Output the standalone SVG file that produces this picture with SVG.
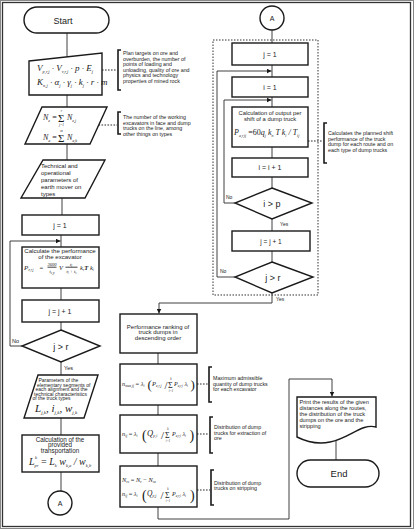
<svg xmlns="http://www.w3.org/2000/svg" width="414" height="529" viewBox="0 0 414 529">
<defs>
<style>
.bx{fill:#fff;stroke:#1a1a1a;stroke-width:1.4}
.ln{fill:none;stroke:#2a2a2a;stroke-width:0.9}
.dt{fill:none;stroke:#2a2a2a;stroke-width:1;stroke-dasharray:1.6 1.4}
.rg{fill:none;stroke:#333;stroke-width:1;stroke-dasharray:1.5 1.5}
.br{fill:none;stroke:#1a1a1a;stroke-width:1.6}
.t{font-family:"Liberation Sans",Arial,sans-serif;fill:#1a1a1a}
.c{text-anchor:middle}
.a{font-size:5.3px}
.f{font-family:"Liberation Serif","Times New Roman",serif;font-style:italic;fill:#1a1a1a}
.n{font-style:normal}
</style>
<marker id="ah" viewBox="0 0 6 6" refX="6" refY="3" markerWidth="5" markerHeight="5" orient="auto" markerUnits="userSpaceOnUse"><path d="M0,0L6,3L0,6z" fill="#1a1a1a"/></marker>
</defs>
<rect x="0" y="0" width="414" height="529" fill="#fff"/>
<rect x="0.5" y="0.5" width="413" height="528" fill="none" stroke="#888" stroke-width="1"/>
<rect x="2.5" y="2.5" width="408" height="524" fill="none" stroke="#333" stroke-width="1.3"/>

<g id="connectors">
<path class="ln" d="M67,33V57"/>
<path class="ln" d="M67,95V107"/>
<path class="ln" d="M67,144V160"/>
<path class="ln" d="M62,198V215"/>
<path class="ln" d="M61,235V247"/>
<path class="ln" d="M22,346H10V241H60.5" marker-end="url(#ah)"/>
<path class="ln" d="M61,288V300"/>
<path class="ln" d="M61,322V330"/>
<path class="ln" d="M61,362V375"/>
<path class="ln" d="M61,418V435"/>
<path class="ln" d="M61,472V491"/>
<path class="ln" d="M272,30V43"/>
<path class="ln" d="M272,65V77"/>
<path class="ln" d="M235,277H217V71H271.5" marker-end="url(#ah)"/>
<path class="ln" d="M272,97V107"/>
<path class="ln" d="M235,203H224V100H271.5" marker-end="url(#ah)"/>
<path class="ln" d="M272,147V158"/>
<path class="ln" d="M272,177V188"/>
<path class="ln" d="M272,219V231"/>
<path class="ln" d="M272,251V262"/>
<path class="ln" d="M272,293V303H159V313.5" marker-end="url(#ah)"/>
<path class="ln" d="M158,353V364"/>
<path class="ln" d="M158,405V415"/>
<path class="ln" d="M158,453V466"/>
<path class="ln" d="M158,507V519H289V379H332V396.5" marker-end="url(#ah)"/>
<path class="ln" d="M336,440V460"/>
<path class="dt" d="M102,70H117"/>
<path class="dt" d="M98.5,125H117"/>
<path class="dt" d="M308,141H323"/>
<path class="dt" d="M197,384H208"/>
<path class="dt" d="M197,434H209"/>
<path class="dt" d="M197,490H210"/>
<text class="t" x="12" y="343" font-size="5.5">No</text>
<text class="t" x="64" y="370" font-size="5.5">Yes</text>
<text class="t" x="226" y="199" font-size="5">No</text>
<text class="t" x="280" y="226" font-size="5">Yes</text>
<text class="t" x="220" y="273" font-size="5">No</text>
<text class="t" x="276" y="301" font-size="5">Yes</text>
</g>

<g id="start">
<rect class="bx" x="24" y="7" width="85" height="26" rx="13"/>
<text class="t c" x="63" y="23.5" font-size="9">Start</text>
</g>

<g id="input-data">
<polygon class="bx" points="29,61 102,53 102,95 29,95"/>
<text class="f" x="37" y="71" font-size="9">V<tspan font-size="4.5" dy="1.5">p,r,j</tspan><tspan dy="-1.5"> · V</tspan><tspan font-size="4.5" dy="1.5">v,r,j</tspan><tspan dy="-1.5"> · p · E</tspan><tspan font-size="4.5" dy="1.5">j</tspan></text>
<text class="f" x="37" y="85" font-size="9">K<tspan font-size="4.5" dy="1.5">n,j</tspan><tspan dy="-1.5"> · α</tspan><tspan font-size="4.5" dy="1.5">j</tspan><tspan dy="-1.5"> · γ</tspan><tspan font-size="4.5" dy="1.5">j</tspan><tspan dy="-1.5"> · k</tspan><tspan font-size="4.5" dy="1.5">j</tspan><tspan dy="-1.5"> · r · m</tspan></text>
</g>
<g id="note-plan">
<path class="br" d="M121,50H118V90H121"/>
<text class="t a" x="123" y="55">Plan targets on ore and</text>
<text class="t a" x="123" y="60.6">overburden, the number of</text>
<text class="t a" x="123" y="66.2">points of loading and</text>
<text class="t a" x="123" y="71.8">unloading, quality of ore and</text>
<text class="t a" x="123" y="77.4">physics and technology</text>
<text class="t a" x="123" y="83">properties of mined rock</text>
</g>

<g id="counts">
<polygon class="bx" points="42,107 107,107 90,144 25,144"/>
<text class="f" x="43" y="120" font-size="8">N<tspan font-size="4" dy="1.5">e</tspan><tspan dy="-1.5" class="n"> = </tspan></text>
<text class="f n" x="58" y="121.5" font-size="11">Σ</text>
<text class="f" x="61.5" y="111.5" font-size="3.5" text-anchor="middle">r</text>
<text class="f" x="61.5" y="125.5" font-size="3.5" text-anchor="middle">j=1</text>
<text class="f" x="67" y="120" font-size="8">N<tspan font-size="4" dy="1.5">e,j</tspan></text>
<text class="f" x="43" y="140" font-size="8">N<tspan font-size="4" dy="1.5">a</tspan><tspan dy="-1.5" class="n"> = </tspan></text>
<text class="f n" x="58" y="141.5" font-size="11">Σ</text>
<text class="f" x="61.5" y="131.5" font-size="3.5" text-anchor="middle">m</text>
<text class="f" x="67" y="140" font-size="8">N<tspan font-size="4" dy="1.5">a,k</tspan></text>
</g>
<g id="note-counts">
<path class="br" d="M121,112H118V134H121"/>
<text class="t a" x="123" y="119">The number of the working</text>
<text class="t a" x="123" y="124.5">excavators in face and dump</text>
<text class="t a" x="123" y="130">trucks on the line, among</text>
<text class="t a" x="123" y="135.5">other things on types</text>
</g>

<g id="tech-params">
<polygon class="bx" points="43,160 105,160 85,198 21,198"/>
<text class="t" x="41" y="167.5" font-size="6">Technical and</text>
<text class="t" x="41" y="174.5" font-size="6">operational</text>
<text class="t" x="41" y="181.5" font-size="6">parameters of</text>
<text class="t" x="41" y="188.5" font-size="6">earth mover on</text>
<text class="t" x="41" y="195.5" font-size="6">types</text>
</g>

<g id="left-j1">
<rect class="bx" x="22" y="215" width="77" height="20"/>
<text class="t c" x="60" y="227.5" font-size="7">j = 1</text>
</g>

<g id="excavator-perf">
<rect class="bx" x="22" y="247" width="77" height="41"/>
<text class="t c" x="60" y="253" font-size="6.1">Calculate the performance</text>
<text class="t c" x="60" y="258.5" font-size="6.1">of the excavator</text>
<text class="f" x="24" y="270" font-size="7">P<tspan font-size="3.5" dy="1.3">e,r,j</tspan></text>
<text class="f n" x="39.5" y="270" font-size="6.5">=</text>
<text class="f" x="52" y="266" font-size="4.5" text-anchor="middle">3600</text>
<path class="ln" d="M47.5,267.2H56.5" stroke-width="0.5"/>
<text class="f" x="52" y="273" font-size="4.5" text-anchor="middle">t<tspan font-size="3" dy="0.8">c,p</tspan></text>
<text class="f" x="59" y="270" font-size="6.5">V</text>
<text class="f" x="71" y="266" font-size="4.5" text-anchor="middle">t<tspan font-size="3" dy="0.8">l</tspan></text>
<path class="ln" d="M65.5,267.2H77.5" stroke-width="0.5"/>
<text class="f" x="71.5" y="273" font-size="4.5" text-anchor="middle">t<tspan font-size="3" dy="0.8">l</tspan><tspan dy="-0.8"> + t</tspan><tspan font-size="3" dy="0.8">s</tspan></text>
<text class="f" x="80" y="270" font-size="6.5">k<tspan font-size="3.5" dy="1.2">r</tspan><tspan dy="-1.2" font-weight="bold">T</tspan><tspan dy="0"> k</tspan><tspan font-size="3.5" dy="1.2">i</tspan></text>
</g>

<g id="left-jinc">
<rect class="bx" x="22" y="300" width="77" height="22"/>
<text class="t c" x="60" y="313.5" font-size="7">j = j + 1</text>
</g>

<g id="left-jgtr">
<polygon class="bx" points="61,330 100,346 61,362 22,346"/>
<text class="t c" x="61" y="349.5" font-size="9">j &gt; r</text>
</g>

<g id="segment-params">
<polygon class="bx" points="38,375 98,375 84,418 24,418"/>
<text class="t" x="38.5" y="382" font-size="5">Parameters of the</text>
<text class="t" x="37" y="386.5" font-size="5">elementary segments of</text>
<text class="t" x="35.5" y="391" font-size="5">each alignment and the</text>
<text class="t" x="34" y="395.5" font-size="5">technical characteristics</text>
<text class="t" x="32.5" y="400" font-size="5">of the truck types</text>
<text class="f" x="35" y="412" font-size="11">L<tspan font-size="5" dy="1.8">j,k</tspan><tspan dy="-1.8">, i</tspan><tspan font-size="5" dy="1.8">j,k</tspan><tspan dy="-1.8">, w</tspan><tspan font-size="5" dy="1.8">j,k</tspan></text>
</g>

<g id="provided-transport">
<rect class="bx" x="22" y="435" width="77" height="37"/>
<text class="t c" x="60" y="441.5" font-size="6.3">Calculation of the</text>
<text class="t c" x="60" y="447" font-size="6.3">provided</text>
<text class="t c" x="60" y="452.5" font-size="6.3">transportation</text>
<text class="f" x="29" y="465" font-size="10">L<tspan font-size="4.5" dy="2">pr</tspan><tspan dy="-2" class="n"> = </tspan>L<tspan font-size="4.5" dy="2">k</tspan><tspan dy="-2"> w</tspan><tspan font-size="4.5" dy="2">k,a</tspan><tspan dy="-2"> / w</tspan><tspan font-size="4.5" dy="2">k,b</tspan></text>
<text class="f" x="35" y="459" font-size="4.5">k</text>
</g>

<g id="connector-a-out">
<circle class="bx" cx="60" cy="503" r="12"/>
<text class="t c" x="60" y="505.5" font-size="7">A</text>
</g>

<g id="connector-a-in">
<circle class="bx" cx="272" cy="18" r="12"/>
<text class="t c" x="272" y="20.5" font-size="7">A</text>
</g>

<g id="truck-loop-region">
<rect class="rg" x="213" y="40" width="105" height="255"/>
</g>

<g id="right-j1">
<rect class="bx" x="232" y="43" width="76" height="22"/>
<text class="t c" x="270" y="56.5" font-size="7">j = 1</text>
</g>

<g id="right-i1">
<rect class="bx" x="232" y="77" width="76" height="20"/>
<text class="t c" x="270" y="89.5" font-size="7">i = 1</text>
</g>

<g id="truck-output">
<rect class="bx" x="232" y="107" width="76" height="40"/>
<text class="t c" x="270" y="114.5" font-size="5.8">Calculation of output per</text>
<text class="t c" x="270" y="120.5" font-size="5.8">shift of a dump truck</text>
<text class="f" x="234" y="135" font-size="8">P<tspan font-size="4" dy="1.5">a,r,ij</tspan><tspan dy="-1.5" class="n"> =60</tspan>q<tspan font-size="4" dy="1.5">j</tspan><tspan dy="-1.5"> k</tspan><tspan font-size="4" dy="1.5">n</tspan><tspan dy="-1.5"> T k</tspan><tspan font-size="4" dy="1.5">i</tspan><tspan dy="-1.5"> / T</tspan><tspan font-size="4" dy="1.5">ij</tspan></text>
</g>
<g id="note-truck">
<path class="br" d="M327,123H324V163H327"/>
<text class="t a" x="328" y="135">Calculates the planned shift</text>
<text class="t a" x="328" y="140.5">performance of the truck</text>
<text class="t a" x="328" y="146">dump for each route and on</text>
<text class="t a" x="328" y="151.5">each type of dump trucks</text>
</g>

<g id="right-iinc">
<rect class="bx" x="232" y="158" width="76" height="19"/>
<text class="t c" x="270" y="170" font-size="7">i = i + 1</text>
</g>

<g id="right-igtp">
<polygon class="bx" points="272,188 312,203 272,219 235,203"/>
<text class="t c" x="272" y="206.5" font-size="9">i &gt; p</text>
</g>

<g id="right-jinc">
<rect class="bx" x="232" y="231" width="78" height="20"/>
<text class="t c" x="271" y="243.5" font-size="6.5">j = j + 1</text>
</g>

<g id="right-jgtr">
<polygon class="bx" points="272,262 313,277 272,293 235,277"/>
<text class="t c" x="273" y="280.5" font-size="9">j &gt; r</text>
</g>

<g id="ranking">
<rect class="bx" x="120" y="314" width="77" height="39"/>
<text class="t c" x="158" y="328.5" font-size="6">Performance ranking of</text>
<text class="t c" x="158" y="334" font-size="6">truck dumps in</text>
<text class="t c" x="158" y="339.5" font-size="6">descending order</text>
</g>

<g id="max-trucks">
<rect class="bx" x="120" y="364" width="77" height="41"/>
<text class="f" x="122" y="386" font-size="6.3">n<tspan font-size="3.6" dy="1.2">max,ij</tspan><tspan dy="-1.2" class="n"> = </tspan>λ<tspan font-size="3.6" dy="1.2">i</tspan></text>
<text class="f n" x="147.5" y="389" font-size="13">(</text>
<text class="f" x="152" y="386" font-size="6.5">P<tspan font-size="3.6" dy="1.2">e,r,j</tspan></text>
<text class="f n" x="164.5" y="388.5" font-size="11">/</text>
<text class="f n" x="168" y="388" font-size="8">Σ</text>
<text class="f" x="171" y="380" font-size="3" text-anchor="middle">k</text>
<text class="f" x="171" y="392" font-size="3" text-anchor="middle">i=1</text>
<text class="f" x="174" y="386" font-size="6">P<tspan font-size="3.4" dy="1.2">a,r,i</tspan><tspan dy="-1.2"> λ</tspan><tspan font-size="3.4" dy="1.2">i</tspan></text>
<text class="f n" x="190.5" y="389" font-size="13">)</text>
</g>
<g id="note-max">
<path class="br" d="M212,367H209V402H212"/>
<text class="t a" x="213" y="380">Maximum admissible</text>
<text class="t a" x="213" y="385.5">quantity of dump trucks</text>
<text class="t a" x="213" y="391">for each excavator</text>
</g>

<g id="ore-distribution">
<rect class="bx" x="120" y="415" width="77" height="38"/>
<text class="f" x="122" y="436" font-size="6.3">n<tspan font-size="3.6" dy="1.2">ij</tspan><tspan dy="-1.2" class="n"> = </tspan>λ<tspan font-size="3.6" dy="1.2">i</tspan></text>
<text class="f n" x="142" y="439.5" font-size="14">(</text>
<text class="f" x="147" y="436" font-size="8.5">Q<tspan font-size="4" dy="1.3">p,i</tspan></text>
<text class="f n" x="161" y="438.5" font-size="11">/</text>
<text class="f n" x="165" y="438" font-size="8">Σ</text>
<text class="f" x="168" y="430" font-size="3" text-anchor="middle">k</text>
<text class="f" x="168" y="442" font-size="3" text-anchor="middle">i=1</text>
<text class="f" x="172" y="436" font-size="6">P<tspan font-size="3.4" dy="1.2">a,r,i</tspan><tspan dy="-1.2"> λ</tspan><tspan font-size="3.4" dy="1.2">i</tspan></text>
<text class="f n" x="189.5" y="439.5" font-size="14">)</text>
</g>
<g id="note-ore">
<path class="br" d="M213,417H210V453H213"/>
<text class="t a" x="214" y="429">Distribution of dump</text>
<text class="t a" x="214" y="434.5">trucks for extraction of</text>
<text class="t a" x="214" y="440">ore</text>
</g>

<g id="stripping-distribution">
<rect class="bx" x="120" y="466" width="77" height="41"/>
<text class="f" x="122" y="482" font-size="6.3">N<tspan font-size="3.6" dy="1.2">vs</tspan><tspan dy="-1.2" class="n"> = </tspan>N<tspan font-size="3.6" dy="1.2">v</tspan><tspan dy="-1.2" class="n"> − </tspan>N<tspan font-size="3.6" dy="1.2">ve</tspan></text>
<text class="f" x="122" y="496" font-size="6.3">n<tspan font-size="3.6" dy="1.2">ij</tspan><tspan dy="-1.2" class="n"> = </tspan>λ<tspan font-size="3.6" dy="1.2">i</tspan></text>
<text class="f n" x="142" y="499.5" font-size="14">(</text>
<text class="f" x="147" y="496" font-size="7.5">Q<tspan font-size="3.8" dy="1.3">p,j</tspan></text>
<text class="f n" x="160.5" y="498.5" font-size="11">/</text>
<text class="f n" x="165" y="498" font-size="8">Σ</text>
<text class="f" x="168" y="490" font-size="3" text-anchor="middle">k</text>
<text class="f" x="168" y="502" font-size="3" text-anchor="middle">i=1</text>
<text class="f" x="172" y="496" font-size="6">P<tspan font-size="3.4" dy="1.2">a,r,i</tspan><tspan dy="-1.2"> λ</tspan><tspan font-size="3.4" dy="1.2">i</tspan></text>
<text class="f n" x="190" y="499.5" font-size="14">)</text>
</g>
<g id="note-stripping">
<path class="br" d="M214,470H211V505H214"/>
<text class="t a" x="214" y="484.5">Distribution of dump</text>
<text class="t a" x="214" y="490">trucks on stripping</text>
</g>

<g id="print-results">
<path class="bx" d="M297,397H376V427C362,423 350,438 330,442C315,445 305,441 297,437Z"/>
<text class="t" x="299.5" y="404" font-size="5.6">Print the results of the given</text>
<text class="t" x="299.5" y="410" font-size="5.6">distances along the routes,</text>
<text class="t" x="299.5" y="416" font-size="5.6">the distribution of the truck</text>
<text class="t" x="299.5" y="422" font-size="5.6">dumps on the ore and the</text>
<text class="t" x="299.5" y="428" font-size="5.6">stripping</text>
</g>

<g id="end">
<rect class="bx" x="297" y="460" width="82" height="27" rx="13.5"/>
<text class="t c" x="339" y="477" font-size="9.5">End</text>
</g>
</svg>
